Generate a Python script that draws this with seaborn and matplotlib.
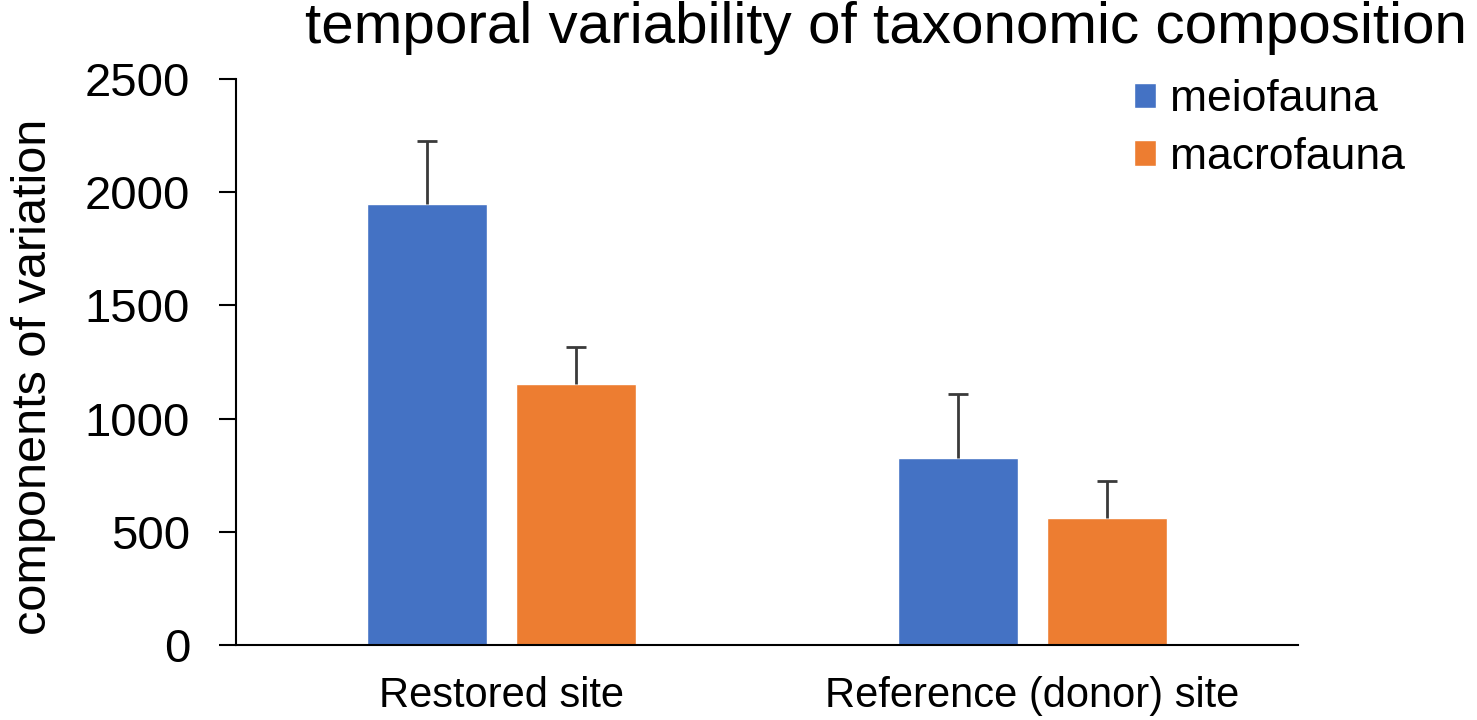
import pandas as pd
import seaborn as sns
import matplotlib
matplotlib.use("Agg")
import matplotlib.pyplot as plt

# values
sites = ["Restored site", "Reference (donor) site"]
groups = ["meiofauna", "macrofauna"]
meio_vals = [1948, 826]
meio_err = [278, 283]
macro_vals = [1153, 561]
macro_err = [163, 163]

colors = ["#4472C4", "#ED7D31"]

df = pd.DataFrame({
    "site": sites * 2,
    "group": [groups[0]] * 2 + [groups[1]] * 2,
    "value": meio_vals + macro_vals,
})
errs = {groups[0]: meio_err, groups[1]: macro_err}

sns.set_style("white")
plt.rcParams["font.family"] = ["Liberation Sans", "DejaVu Sans"]
plt.rcParams.update({"text.color": "black", "axes.labelcolor": "black",
                     "xtick.color": "black", "ytick.color": "black"})

fig = plt.figure(figsize=(14.77, 7.2), dpi=100)
ax = fig.add_axes([236 / 1477, 1 - 645 / 720, (1298 - 236) / 1477, (645 - 79) / 720])

sns.barplot(data=df, x="site", y="value", hue="group", order=sites, hue_order=groups,
            palette=colors, width=0.56, gap=0.19, saturation=1, errorbar=None,
            ax=ax, legend=True)

# one-sided error bars on top of each bar (upper cap only)
for cont, g in zip(ax.containers, groups):
    xs = [b.get_x() + b.get_width() / 2 for b in cont]
    ys = [b.get_height() for b in cont]
    eb = ax.errorbar(xs, ys, yerr=[[0] * len(ys), errs[g]], fmt="none", ecolor="#3a3a3a",
                     elinewidth=2, capsize=7, capthick=2, zorder=3)
    eb[1][0].set_visible(False)

ax.set_ylim(0, 2500)
ax.set_yticks([0, 500, 1000, 1500, 2000, 2500])
ax.set_xlim(-0.5, 1.5)
ax.set_xlabel("")
ax.set_ylabel("components of variation", fontsize=35, labelpad=21)
ax.yaxis.label.set_y(0.5 - 15 / 566)
ax.tick_params(axis="y", labelsize=34, length=12, width=1.5, pad=21, direction="out", left=True)
ax.tick_params(axis="x", labelsize=30, length=0, pad=22)
for s in ["top", "right"]:
    ax.spines[s].set_visible(False)
for s in ["left", "bottom"]:
    ax.spines[s].set_color("black")
    ax.spines[s].set_linewidth(1.5)

handles, labels = ax.get_legend_handles_labels()
ax.get_legend().remove()
fig.legend(handles, labels, loc="upper left", bbox_to_anchor=(1134 / 1477, 1 - 79 / 720),
           frameon=False, fontsize=32, handlelength=0.5, handleheight=0.5,
           handletextpad=0.3, labelspacing=0.38, borderpad=0, borderaxespad=0)

fig.text(886 / 1477, 1 - 43 / 720, "temporal variability of taxonomic composition",
         fontsize=42, ha="center", va="baseline")

plt.savefig("out.png", dpi=100)
